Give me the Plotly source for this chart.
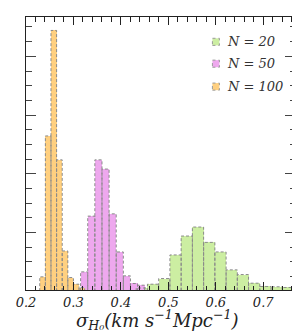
import plotly.graph_objects as go

# Histogram data (bin start, bin width, bar heights)
n20_start = 0.4323
n20_width = 0.02368
n20_heights = [0.54, 1.19, 2.15, 6.17, 9.39, 10.92, 8.31, 6.68, 3.63, 2.83, 1.36, 0.80, 0.75, 0.63]

n50_start = 0.3151
n50_width = 0.01501
n50_heights = [3.29, 12.78, 22.37, 20.80, 13.17, 6.68, 2.61, 1.31, 1.02]

n100_start = 0.2290
n100_width = 0.01183
n100_heights = [2.44, 26.44, 44.41, 22.37, 6.85, 2.32, 1.19, 0.60]

labels = ["<i>N</i> = 20", "<i>N</i> = 50", "<i>N</i> = 100"]
colors = ["#CCEEA2", "#EEA8EE", "#FFD080"]

series = [
    (labels[0], n20_start, n20_width, n20_heights, colors[0]),
    (labels[1], n50_start, n50_width, n50_heights, colors[1]),
    (labels[2], n100_start, n100_width, n100_heights, colors[2]),
]

fig = go.Figure()
for name, start, w, hs, col in series:
    edges = [start + i * w for i in range(len(hs) + 1)]
    centers = [(edges[i] + edges[i + 1]) / 2 for i in range(len(hs))]
    fig.add_trace(go.Bar(x=centers, y=hs, width=w, name=name,
                         marker=dict(color=col, line=dict(width=0)),
                         showlegend=False))
    ox, oy = [], []
    for i, h in enumerate(hs):
        ox += [edges[i], edges[i], edges[i + 1], edges[i + 1], None]
        oy += [0, h, h, 0, None]
    fig.add_trace(go.Scatter(x=ox, y=oy, mode="lines", showlegend=False,
                             hoverinfo="skip",
                             line=dict(color="#8a8a8a", width=1, dash="3px,2px")))

# custom legend (paper coordinates)
leg_y = [0.909, 0.829, 0.745]
for lab, col, yy in zip(labels, colors, leg_y):
    fig.add_shape(type="rect", xref="paper", yref="paper",
                  x0=0.693, x1=0.719, y0=yy - 0.013, y1=yy + 0.013,
                  fillcolor=col, line=dict(color="#9a9a9a", width=1, dash="dot"))
    fig.add_annotation(xref="paper", yref="paper", x=0.741, y=yy,
                       xanchor="left", yanchor="middle", showarrow=False,
                       text=lab, font=dict(size=13, style="italic",
                                           family="DejaVu Serif", color="#333"))

fig.add_annotation(xref="paper", yref="paper", x=0.49, y=-0.11,
                   xanchor="center", yanchor="middle", showarrow=False,
                   text="<i>σ<sub>H₀</sub>(km s<sup>−1</sup>Mpc<sup>−1</sup>)</i>",
                   font=dict(size=18, family="DejaVu Serif", color="#222"))

fig.update_layout(
    width=300, height=334,
    margin=dict(l=13, r=13, t=8, b=52),
    paper_bgcolor="white", plot_bgcolor="white",
    barmode="overlay", bargap=0,
    font=dict(family="DejaVu Serif", color="#222"),
    showlegend=False,
)
fig.update_xaxes(
    range=[0.2, 0.767], showgrid=False, zeroline=False,
    showline=True, linecolor="#222", linewidth=1, mirror="ticks",
    ticks="inside", ticklen=8, tickcolor="#222", tickwidth=1,
    tick0=0.2, dtick=0.1, tickformat=".1f",
    tickfont=dict(size=13, style="italic", family="DejaVu Serif", color="#222"),
    minor=dict(ticks="inside", ticklen=4.5, dtick=0.02, tick0=0.2, tickcolor="#222", showgrid=False),
)
fig.update_yaxes(
    range=[0.2, 46.7], showgrid=False, zeroline=False,
    showline=True, linecolor="#222", linewidth=1, mirror="ticks",
    ticks="inside", ticklen=10, tickcolor="#444", tickwidth=1,
    tick0=0, dtick=10, showticklabels=False,
    minor=dict(ticks="inside", ticklen=5.5, dtick=2.5, tick0=0, tickcolor="#444", showgrid=False),
)

fig.write_html("out.html")
